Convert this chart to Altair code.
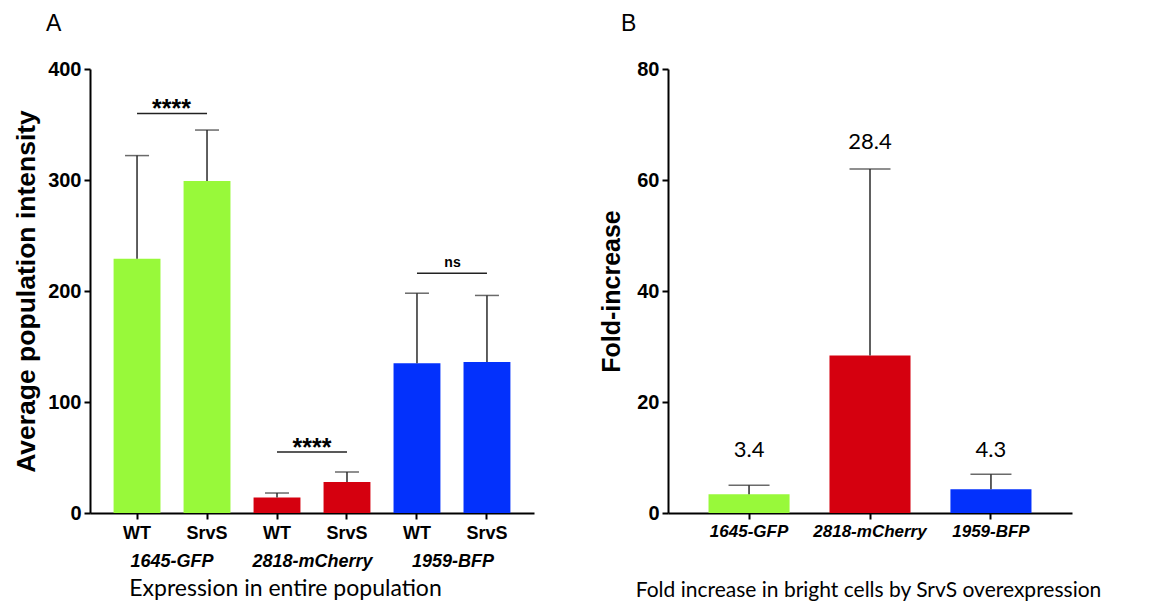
import altair as alt
import pandas as pd

# ---------------- data ----------------
groups = ["1645-GFP", "2818-mCherry", "1959-BFP"]
samples = ["WT", "SrvS"]
bar_colors = ["#98F93A", "#D5000F", "#0331FC"]

# Panel A: average population intensity (mean, upper error bar end)
a_mean = [229, 299, 14, 28, 135, 136]
a_err = [322, 345, 18, 37, 198, 196]
sig_label = ["****", "****", "ns"]
sig_y = [360, 55, 216]

# Panel B: fold increase
b_mean = [3.4, 28.4, 4.3]
b_err = [5.0, 62.0, 7.0]
b_text = ["3.4", "28.4", "4.3"]
b_text_y = [11.4, 66.8, 11.4]

BOLD = "Liberation Sans"
SOFT = "Lato"
ERR = "#2b2b2b"

# ---------------- tables ----------------
rows = []
for gi, g in enumerate(groups):
    for si, s in enumerate(samples):
        i = gi * 2 + si
        rows.append(dict(key=f"{s} {g}", sample=s, group=g, mean=a_mean[i], err=a_err[i]))
dfA = pd.DataFrame(rows)
keys = list(dfA["key"])

sigdf = pd.DataFrame(dict(
    group=groups,
    wt_key=[f"WT {g}" for g in groups],
    srvs_key=[f"SrvS {g}" for g in groups],
    label=sig_label,
    y=sig_y,
))

dfB = pd.DataFrame(dict(group=groups, mean=b_mean, err=b_err, txt=b_text, ty=b_text_y))

color = alt.Color("group:N", scale=alt.Scale(domain=groups, range=bar_colors), legend=None)

axis_common = dict(
    domainColor="black", domainWidth=2, tickColor="black", tickWidth=2, tickSize=6,
    labelColor="black", labelFont=BOLD, labelFontWeight="bold", grid=False,
)

# ---------------- panel A ----------------
key_scale = alt.Scale(domain=keys, paddingInner=0.33, paddingOuter=0.337)
xkey_axis = alt.X(
    "key:N", sort=keys, scale=key_scale,
    axis=alt.Axis(title=None, labelAngle=0, labelExpr="split(datum.label, ' ')[0]",
                  labelFontSize=18, labelPadding=5, **axis_common),
)
yA = alt.Y(
    "mean:Q", scale=alt.Scale(domain=[0, 400]),
    axis=alt.Axis(values=[0, 100, 200, 300, 400], title="Average population intensity",
                  titleFont=BOLD, titleFontWeight="bold", titleFontSize=26.5, titleColor="black",
                  titlePadding=7.5, labelFontSize=20, labelPadding=3, **axis_common),
)

bars_a = alt.Chart(dfA).mark_bar().encode(x=xkey_axis, y=yA, color=color)
err_a = alt.Chart(dfA).mark_rule(color=ERR, strokeWidth=1.5).encode(
    x=alt.X("key:N", sort=keys, scale=key_scale), y=alt.Y("mean:Q"), y2="err:Q")
cap_a = alt.Chart(dfA).mark_tick(color=ERR, size=24, thickness=1.5).encode(
    x=alt.X("key:N", sort=keys, scale=key_scale), y=alt.Y("err:Q"))
sig_rule = alt.Chart(sigdf).mark_rule(color="#222222", strokeWidth=1.5).encode(
    x=alt.X("wt_key:N", sort=keys, scale=key_scale), x2="srvs_key:N", y=alt.Y("y:Q"))

layer_keys = alt.layer(bars_a, err_a, cap_a, sig_rule)

group_scale = alt.Scale(type="point", domain=groups, padding=0.58)
xgroup = alt.X(
    "group:N", sort=groups, scale=group_scale,
    axis=alt.Axis(orient="bottom", domain=False, ticks=False, labelAngle=0,
                  labelColor="black", labelFont=BOLD, labelFontWeight="bold",
                  labelFontStyle="italic", labelFontSize=18, labelPadding=39,
                  title="Expression in entire population", titleFont=SOFT,
                  titleFontWeight="normal", titleFontSize=23, titleColor="black",
                  titlePadding=7, titleX=195, grid=False),
)
sig_star = alt.Chart(sigdf).transform_filter(alt.datum.label == "****").mark_text(
    font=BOLD, fontWeight="bold", fontSize=25, baseline="alphabetic", dy=4, color="black"
).encode(x=xgroup, y=alt.Y("y:Q"), text="label:N")
sig_ns = alt.Chart(sigdf).transform_filter(alt.datum.label == "ns").mark_text(
    font=BOLD, fontWeight="bold", fontSize=14, baseline="alphabetic", dy=-6, color="black"
).encode(x=xgroup, y=alt.Y("y:Q"), text="label:N")

layer_groups = alt.layer(sig_star, sig_ns)

panelA = alt.layer(layer_keys, layer_groups).resolve_scale(x="independent").properties(
    width=444, height=444,
    title=alt.TitleParams("A", anchor="start", frame="group", dx=-44, font=BOLD,
                          fontSize=23, fontWeight="normal", color="black", offset=23),
)

# ---------------- panel B ----------------
b_scale = alt.Scale(domain=groups, paddingInner=0.33, paddingOuter=0.335)
xB = alt.X(
    "group:N", sort=groups, scale=b_scale,
    axis=alt.Axis(title="Fold increase in bright cells by SrvS overexpression", labelAngle=0,
                  labelFontStyle="italic", labelFontSize=17, labelPadding=4,
                  titleFont=SOFT, titleFontWeight="normal", titleFontSize=21, titleColor="black",
                  titlePadding=40, titleX=200, **axis_common),
)
yB = alt.Y(
    "mean:Q", scale=alt.Scale(domain=[0, 80]),
    axis=alt.Axis(values=[0, 20, 40, 60, 80], title="Fold-increase",
                  titleFont=BOLD, titleFontWeight="bold", titleFontSize=25, titleColor="black",
                  titlePadding=12, labelFontSize=20, labelPadding=3, **axis_common),
)
bars_b = alt.Chart(dfB).mark_bar().encode(x=xB, y=yB, color=color)
err_b = alt.Chart(dfB).mark_rule(color=ERR, strokeWidth=1.5).encode(
    x=alt.X("group:N", sort=groups, scale=b_scale), y=alt.Y("mean:Q"), y2="err:Q")
cap_b = alt.Chart(dfB).mark_tick(color=ERR, size=41, thickness=1.5).encode(
    x=alt.X("group:N", sort=groups, scale=b_scale), y=alt.Y("err:Q"))
txt_b = alt.Chart(dfB).mark_text(font=SOFT, fontSize=22, baseline="middle", color="black").encode(
    x=alt.X("group:N", sort=groups, scale=b_scale), y=alt.Y("ty:Q"), text="txt:N")

panelB = alt.layer(bars_b, err_b, cap_b, txt_b).properties(
    width=404, height=444,
    title=alt.TitleParams("B", anchor="start", frame="group", dx=-47, font=BOLD,
                          fontSize=23, fontWeight="normal", color="black", offset=23),
)

chart = alt.hconcat(panelA, panelB, spacing=65).configure(
    background="white", view=alt.ViewConfig(stroke=None)
)

chart.save("out.html", embed_options={"renderer": "svg", "actions": False})
